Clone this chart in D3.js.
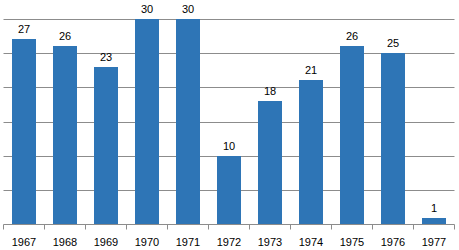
<html>
<head>
<title>Bars</title>
<script src="https://d3js.org/d3.v7.min.js"></script>
<style>
body { margin: 0; background: #fff; }
text { font-family: "Liberation Sans", Arial, sans-serif; font-size: 11px; fill: #000; }
</style>
</head>
<body>
<script>
var years = ["1967","1968","1969","1970","1971","1972","1973","1974","1975","1976","1977"];
var values = [27, 26, 23, 30, 30, 10, 18, 21, 26, 25, 1];
var gridTicks = [5, 10, 15, 20, 25, 30];

var w = 459, h = 250;
var svg = d3.select('body').append('svg')
    .attr('width', w)
    .attr('height', h);

var x = d3.scaleBand()
    .domain(years)
    .range([3.5, 454.5])
    .paddingInner(0.415)
    .paddingOuter(0.2075);

var y = d3.scaleLinear()
    .domain([0, 30])
    .range([224.5, 18.5]);

// gridlines
svg.selectAll('.grid')
    .data(gridTicks)
    .enter()
    .append('line')
    .attr('x1', 3.5)
    .attr('x2', 454.5)
    .attr('y1', d => Math.round(y(d)) + 0.5)
    .attr('y2', d => Math.round(y(d)) + 0.5)
    .attr('stroke', '#8c8c8c')
    .attr('stroke-width', 1);

// bars
svg.selectAll('.bar')
    .data(values)
    .enter()
    .append('rect')
    .attr('x', (d, i) => Math.round(x(years[i])))
    .attr('width', Math.round(x.bandwidth()))
    .attr('y', d => Math.round(y(d)))
    .attr('height', d => Math.round(y(0)) - Math.round(y(d)))
    .attr('fill', '#2e75b6');

// value labels
svg.selectAll('.val')
    .data(values)
    .enter()
    .append('text')
    .attr('x', (d, i) => x(years[i]) + x.bandwidth() / 2)
    .attr('y', d => y(d) - 6)
    .attr('text-anchor', 'middle')
    .text(d => d);

// x axis baseline + ticks at band edges
svg.append('line')
    .attr('x1', 3.5).attr('x2', 454.5)
    .attr('y1', 224.5).attr('y2', 224.5)
    .attr('stroke', '#8c8c8c');

var edges = years.map(d => x(d) - x.step() * x.paddingInner() / 2);
edges.push(454.5);
svg.selectAll('.tick')
    .data(edges)
    .enter()
    .append('line')
    .attr('x1', d => Math.round(d - 0.5) + 0.5)
    .attr('x2', d => Math.round(d - 0.5) + 0.5)
    .attr('y1', 224.5)
    .attr('y2', 229.5)
    .attr('stroke', '#8c8c8c');

svg.selectAll('.lab')
    .data(years)
    .enter()
    .append('text')
    .attr('x', d => x(d) + x.bandwidth() / 2)
    .attr('y', 246)
    .attr('text-anchor', 'middle')
    .text(d => d);
</script>
</body>
</html>
